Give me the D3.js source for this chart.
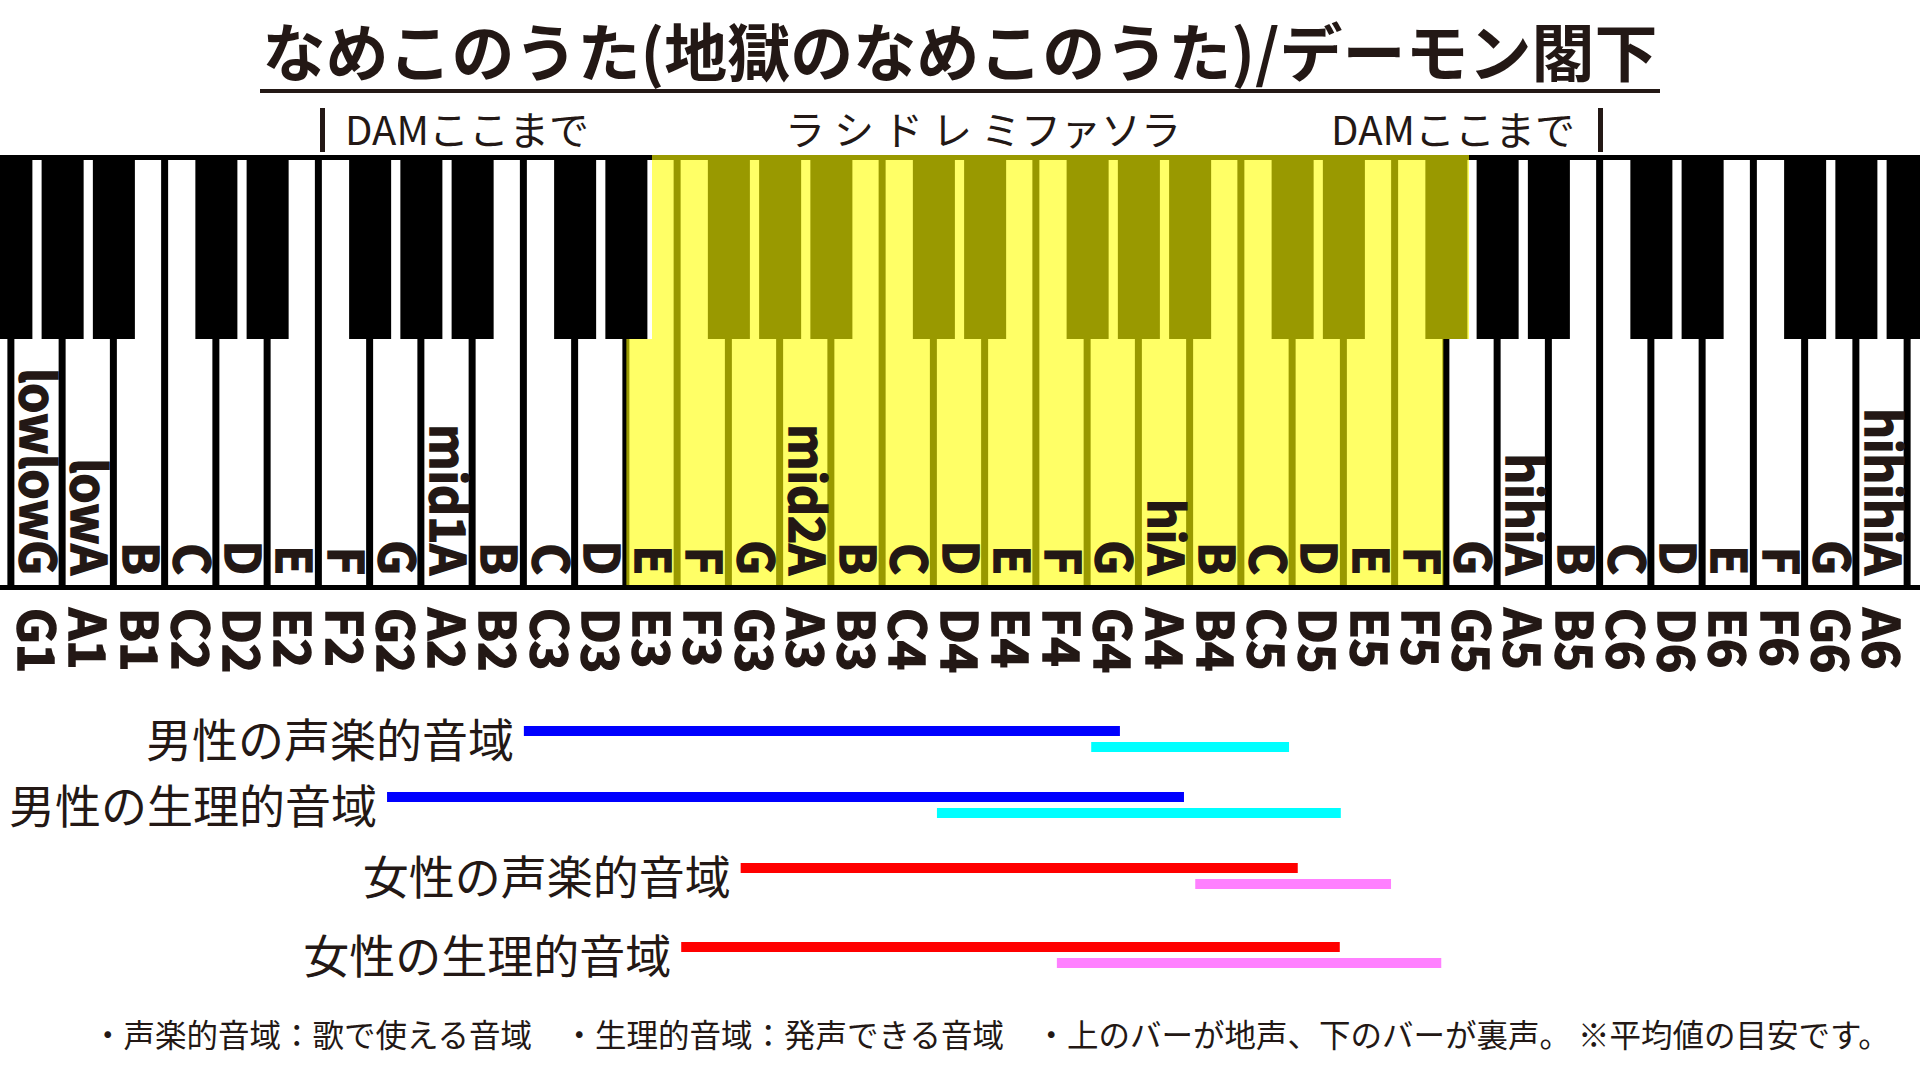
<!doctype html>
<html>
<head>
<meta charset="utf-8">
<script src="https://d3js.org/d3.v7.min.js"></script>
<style>
  body { margin: 0; background: #fff; }
  text { font-family: "Noto Sans CJK JP", sans-serif; fill: #231815; }
</style>
</head>
<body>
<script>
// white keys G1..A6 (index 0..36), plus partial F1 (-1) and B6 (37)
const notes = ["G1","A1","B1","C2","D2","E2","F2","G2","A2","B2","C3","D3","E3","F3","G3","A3","B3",
  "C4","D4","E4","F4","G4","A4","B4","C5","D5","E5","F5","G5","A5","B5","C6","D6","E6","F6","G6","A6"];
const keyLabels = ["lowlowG","lowA","B","C","D","E","F","G","mid1A","B","C","D","E","F","G","mid2A","B","C","D","E","F","G",
  "hiA","B","C","D","E","F","G","hihiA","B","C","D","E","F","G","hihihiA"];
const highlight = [12, 27]; // E3..F5
const rangeNames = ["男性の声楽的音域","男性の生理的音域","女性の声楽的音域","女性の生理的音域"];
// [start, end] in key positions (0 = G1 centre)
const chestRanges = [[9.5, 21.13],[6.83, 22.38],[13.73, 24.6],[12.57, 25.42]];
const falsettoRanges = [[20.57, 24.43],[17.56, 25.44],[22.6, 26.42],[19.9, 27.4]];
const chestColors = ["#0000ff","#0000ff","#ff0000","#ff0000"];
const falsettoColors = ["#00ffff","#00ffff","#ff80ff","#ff80ff"];

const W = 1920, H = 1080;
const svg = d3.select("body").append("svg").attr("width", W).attr("height", H);

const x = d3.scaleLinear().domain([0, 36]).range([37, 1882]);
const kw = x(1) - x(0);
const kbTop = 155, blackBottom = 339, keyBottom = 585;

// title
svg.append("text").attr("x", 960).attr("y", 76).attr("text-anchor", "middle")
  .attr("font-size", 63).attr("font-weight", "bold").text("なめこのうた(地獄のなめこのうた)/デーモン閣下");
svg.append("rect").attr("x", 260).attr("y", 89).attr("width", 1400).attr("height", 4).attr("fill", "#231815");

// DAM markers
svg.append("rect").attr("x", 320).attr("y", 108).attr("width", 5).attr("height", 44).attr("fill", "#231815");
svg.append("text").attr("x", 345).attr("y", 145).attr("font-size", 40).text("DAMここまで");
svg.append("rect").attr("x", 1598).attr("y", 108).attr("width", 5).attr("height", 44).attr("fill", "#231815");
svg.append("text").attr("x", 1575).attr("y", 145).attr("text-anchor", "end").attr("font-size", 40).text("DAMここまで");
svg.append("text").attr("x", 983).attr("y", 145).attr("text-anchor", "middle").attr("font-size", 40)
  .text("ラ シ ド レ ミファソラ");

// keyboard
svg.append("rect").attr("x", 0).attr("y", kbTop).attr("width", W).attr("height", keyBottom - kbTop).attr("fill", "#000");
const idx = d3.range(-1, 38);
svg.selectAll("rect.white").data(idx).join("rect").attr("class", "white")
  .attr("x", i => x(i - 0.5) + 3).attr("y", kbTop + 5)
  .attr("width", kw - 7).attr("height", keyBottom - kbTop - 5).attr("fill", "#fff");

const letters = "GABCDEF";
const hasBlack = i => "CDFGA".includes(letters[((i % 7) + 7) % 7]);
svg.selectAll("rect.black").data(idx.filter(hasBlack)).join("rect").attr("class", "black")
  .attr("x", i => x(i + 0.5) - kw * 0.41).attr("y", kbTop)
  .attr("width", kw * 0.82).attr("height", blackBottom - kbTop).attr("fill", "#000");

// yellow highlight (upper part sits half a key to the right)
svg.append("rect").attr("x", x(highlight[0])).attr("y", kbTop)
  .attr("width", x(highlight[1] + 0.5) - x(highlight[0] - 0.5) - 3).attr("height", blackBottom - kbTop)
  .attr("fill", "#ffff00").attr("opacity", 0.6);
svg.append("rect").attr("x", x(highlight[0] - 0.5)).attr("y", blackBottom)
  .attr("width", x(highlight[1] + 0.5) - x(highlight[0] - 0.5) - 3).attr("height", keyBottom - blackBottom)
  .attr("fill", "#ffff00").attr("opacity", 0.6);

// key labels (rotated)
svg.selectAll("text.kl").data(keyLabels).join("text").attr("class", "kl")
  .attr("transform", (d, i) => `translate(${x(i) - 17},575) rotate(90)`)
  .attr("text-anchor", "end").attr("font-family", "'DejaVu Sans', sans-serif")
  .attr("font-weight", "bold").attr("font-size", 48).attr("stroke", "#231815").attr("stroke-width", 1.5)
  .text(d => d);

// note names
svg.selectAll("text.nn").data(notes).join("text").attr("class", "nn")
  .attr("transform", (d, i) => `translate(${x(i) - 19},608) rotate(90)`)
  .attr("font-family", "'DejaVu Sans', sans-serif")
  .attr("font-weight", "bold").attr("font-size", 50).attr("stroke", "#231815").attr("stroke-width", 1.5)
  .text(d => d);
svg.append("rect").attr("x", 0).attr("y", keyBottom).attr("width", W).attr("height", 5).attr("fill", "#000");

// ranges
const rowY = [731, 797, 868, 947];
rangeNames.forEach((name, r) => {
  svg.append("rect").attr("x", x(chestRanges[r][0])).attr("y", rowY[r] - 5)
    .attr("width", x(chestRanges[r][1]) - x(chestRanges[r][0])).attr("height", 10).attr("fill", chestColors[r]);
  svg.append("rect").attr("x", x(falsettoRanges[r][0])).attr("y", rowY[r] + 11)
    .attr("width", x(falsettoRanges[r][1]) - x(falsettoRanges[r][0])).attr("height", 10).attr("fill", falsettoColors[r]);
  svg.append("text").attr("x", x(chestRanges[r][0]) - 10).attr("y", rowY[r] + 26)
    .attr("text-anchor", "end").attr("font-size", 46).text(name);
});

svg.append("text").attr("x", 92).attr("y", 1047).attr("font-size", 31.5)
  .text("・声楽的音域：歌で使える音域　・生理的音域：発声できる音域　・上のバーが地声、下のバーが裏声。 ※平均値の目安です。");
</script>
</body>
</html>
